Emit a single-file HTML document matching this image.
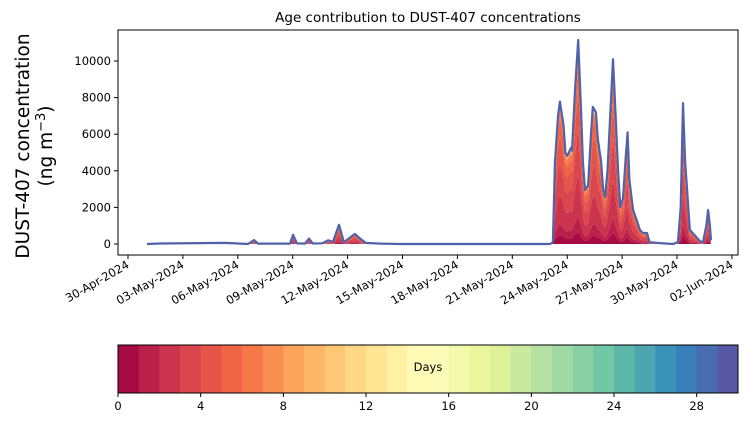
<!DOCTYPE html>
<html><head><meta charset="utf-8"><style>
body{margin:0;background:#fff;}
svg{display:block;font-family:"DejaVu Sans","Liberation Sans",sans-serif;}
</style></head>
<body>
<svg id="chart" width="748" height="425" viewBox="0 0 748 425"></svg>
<script>
// Data: [days since 30-Apr-2024, total concentration ng m-3]
const times = [1.04,1.75,5.36,6.56,6.89,7.1,8.85,9.02,9.23,9.67,9.89,10.1,10.6,10.93,11.2,11.53,11.8,12.4,12.68,13.0,13.77,14.86,23.06,23.22,23.33,23.5,23.6,23.8,23.9,24.0,24.2,24.26,24.43,24.6,24.75,24.86,24.97,25.14,25.3,25.4,25.57,25.68,25.85,25.96,26.07,26.2,26.4,26.5,26.6,26.78,26.9,27.05,27.2,27.3,27.4,27.6,27.8,27.98,28.14,28.36,28.5,29.07,29.78,30.05,30.2,30.33,30.44,30.55,30.7,31.26,31.42,31.6,31.7,31.8,31.86];
const totals = [0,30,60,0,220,20,20,500,40,20,300,30,40,200,120,1050,100,550,300,60,20,0,0,100,4400,7000,7780,6500,5000,4800,5250,5100,8500,11150,7500,4500,2950,3200,6000,7500,7200,5700,4500,3000,2570,4000,8000,10100,8000,4000,2000,2500,4800,6100,3500,1850,1300,760,600,600,100,50,0,100,2000,7700,4500,2950,770,150,100,1000,1850,1000,200];
const ageFractions = [0.06,0.08,0.2,0.22,0.18,0.12,0.06,0.02,0.006,0.003,0.002,0.001,0.001,0.001,0.001,0.001,0.001,0.001,0.001,0.001,0.001,0.001,0.001,0.001,0.001,0.001,0.001,0.001,0.001,0.005];
const yTicks = [0,2000,4000,6000,8000,10000];
const xTickDays = [0,3,6,9,12,15,18,21,24,27,30,33];
const xTickLabels = ["30-Apr-2024","03-May-2024","06-May-2024","09-May-2024","12-May-2024","15-May-2024","18-May-2024","21-May-2024","24-May-2024","27-May-2024","30-May-2024","02-Jun-2024"];
const cbTicks = [0,4,8,12,16,20,24,28];

const NS="http://www.w3.org/2000/svg";
const svg=document.getElementById('chart');
function mk(t,a,p){const e=document.createElementNS(NS,t);for(const k in a)e.setAttribute(k,a[k]);(p||svg).appendChild(e);return e;}
const L=118,R=738,T=30,B=255;
const xS=d=>128+d*18.3;
const yS=v=>244-v*0.0183;
const anchors=["#9e0142","#d53e4f","#f46d43","#fdae61","#fee08b","#ffffbf","#e6f598","#abdda4","#66c2a5","#3288bd","#5e4fa2"];
function spectral(t){const p=t*10,i=Math.min(9,Math.floor(p)),f=p-i;const a=anchors[i],b=anchors[i+1];
 const c=[1,3,5].map(k=>Math.round(parseInt(a.substr(k,2),16)*(1-f)+parseInt(b.substr(k,2),16)*f));return `rgb(${c.join(',')})`;}
const colors=[];for(let i=0;i<30;i++)colors.push(spectral((i+0.5)/30));
const fsum=ageFractions.reduce((a,b)=>a+b,0);

let cum=times.map(()=>0);
for(let k=0;k<ageFractions.length;k++){
 const next=totals.map((v,i)=>cum[i]+v*ageFractions[k]/fsum);
 let d="M"+times.map((t,i)=>xS(t).toFixed(1)+","+yS(next[i]).toFixed(1)).join("L");
 for(let i=times.length-1;i>=0;i--)d+="L"+xS(times[i]).toFixed(1)+","+yS(cum[i]).toFixed(1);
 const p=mk('path',{d:d+"Z",fill:colors[k],stroke:'none'});
 
 
 cum=next;
}
const topLine=mk('path',{d:"M"+times.map((t,i)=>xS(t).toFixed(1)+","+yS(totals[i]).toFixed(1)).join("L"),fill:"none",stroke:"#4f62aa",'stroke-width':2.2,'stroke-linejoin':'round'});



const frame=mk('rect',{x:L,y:T,width:R-L,height:B-T,fill:'none',stroke:'#000','stroke-width':1});



yTicks.forEach(v=>{const y=yS(v);mk('line',{x1:L-4,x2:L,y1:y,y2:y,stroke:'#000'});
 const t=mk('text',{x:L-7,y:y+4,'text-anchor':'end','font-size':11.5});t.textContent=v;
 
 });
xTickDays.forEach((d,i)=>{const x=xS(d);mk('line',{x1:x,x2:x,y1:B,y2:B+4,stroke:'#000'});
 const t=mk('text',{x:x+2,y:B+12,'text-anchor':'end','font-size':11.5,transform:`rotate(-30 ${x+2} ${B+12})`});t.textContent=xTickLabels[i];
 
 });

const title=mk('text',{x:428,y:22,'text-anchor':'middle','font-size':13.5});title.textContent="Age contribution to DUST-407 concentrations";


const yl=mk('text',{transform:'translate(29,146) rotate(-90)','text-anchor':'middle','font-size':18.5});


const s1=mk('tspan',{x:0,dy:0},yl);s1.textContent="DUST-407 concentration";
const s2=mk('tspan',{x:0,dy:23},yl);s2.textContent="(ng m";
const s3=mk('tspan',{dy:-7,'font-size':13},yl);s3.textContent="−3";
const s4=mk('tspan',{dy:7},yl);s4.textContent=")";

const cbL=118,cbR=738,cbT=345,cbB=393,w=(cbR-cbL)/30;
colors.forEach((c,i)=>{const r=mk('rect',{x:cbL+i*w,y:cbT,width:w+0.5,height:cbB-cbT,fill:c});
 
 });
mk('rect',{x:cbL,y:cbT,width:cbR-cbL,height:cbB-cbT,fill:'none',stroke:'#000'});
const dl=mk('text',{x:428,y:371,'text-anchor':'middle','font-size':11.5});dl.textContent="Days";


cbTicks.forEach(v=>{const x=cbL+v*w;mk('line',{x1:x,x2:x,y1:cbB,y2:cbB+4,stroke:'#000'});
 const t=mk('text',{x:x,y:cbB+17,'text-anchor':'middle','font-size':11.5});t.textContent=v;
 
 });
</script>
</body></html>
